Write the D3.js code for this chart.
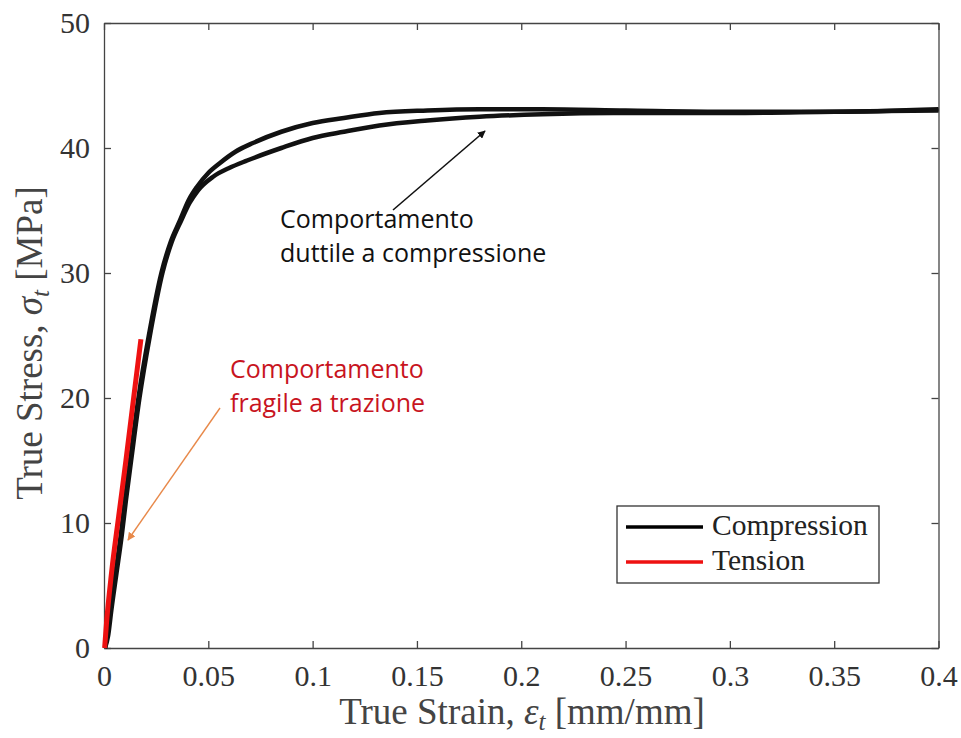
<!DOCTYPE html>
<html>
<head>
<meta charset="utf-8">
<script src="https://cdn.jsdelivr.net/npm/d3@7"></script>
<style>
  body { margin: 0; background: #fff; }
  svg { display: block; }
  .axis text { font-family: "Liberation Serif", "Times New Roman", serif; font-size: 30px; fill: #333; }
  .axis path, .axis line { stroke: #444; stroke-width: 1.3; }
  .lbl { font-family: "Liberation Serif", "Times New Roman", serif; font-size: 37px; fill: #444; }
  .leg { font-family: "Liberation Serif", "Times New Roman", serif; font-size: 29.5px; fill: #222; }
  .note { font-family: "Open Sans", "Noto Sans", sans-serif; font-size: 25px; }
</style>
</head>
<body>
<script>
// compression - two specimens
var compStrainA = [0.0005, 0.0015, 0.003, 0.0055, 0.008, 0.010, 0.0125, 0.0165, 0.0215, 0.0275, 0.0320, 0.0364, 0.0405, 0.0446, 0.050, 0.0556, 0.063, 0.0714, 0.085, 0.100, 0.115, 0.132, 0.155, 0.180, 0.210, 0.250, 0.300, 0.350, 0.400];
var compStressA = [0, 1, 3, 6, 9, 11.8, 15, 20, 25, 30, 32.5, 34.2, 35.8, 36.9, 38.0, 38.8, 39.7, 40.4, 41.3, 42.0, 42.4, 42.8, 43.0, 43.1, 43.1, 43.0, 42.9, 42.9, 43.1];
var compStrainB = [0.0005, 0.002, 0.0035, 0.006, 0.0085, 0.0105, 0.013, 0.017, 0.022, 0.028, 0.0325, 0.037, 0.041, 0.0450, 0.0523, 0.060, 0.0686, 0.085, 0.100, 0.115, 0.132, 0.155, 0.180, 0.210, 0.244, 0.300, 0.350, 0.400];
var compStressB = [0, 1, 3, 6, 9, 11.8, 15, 20, 25, 30, 32.5, 34.2, 35.6, 36.6, 37.7, 38.4, 39.0, 40.0, 40.8, 41.3, 41.8, 42.2, 42.5, 42.7, 42.8, 42.8, 42.9, 43.0];
// tension
var tenStrain = [0.0003, 0.0012, 0.0036, 0.0070, 0.0105, 0.0142, 0.0177];
var tenStress = [0, 2, 6, 10.5, 15, 20, 24.7];

var xTicks = [0, 0.05, 0.1, 0.15, 0.2, 0.25, 0.3, 0.35, 0.4];
var yTicks = [0, 10, 20, 30, 40, 50];
var legendNames = ["Compression", "Tension"];
var legendColors = ["#000", "#ee1111"];

var W = 961, H = 738;
var pLeft = 104, pRight = 938.5, pTop = 23, pBottom = 648;

var svg = d3.select("body").append("svg").attr("width", W).attr("height", H);

var x = d3.scaleLinear().domain([0, 0.4]).range([pLeft, pRight]);
var y = d3.scaleLinear().domain([0, 50]).range([pBottom, pTop]);

function fmt(d) { return d === 0 ? "0" : String(d); }

// axes, ticks pointing inward on all 4 sides
svg.append("g").attr("class", "axis")
    .attr("transform", "translate(0," + pBottom + ")")
    .call(d3.axisBottom(x).tickValues(xTicks).tickFormat(fmt).tickSizeInner(-7).tickSizeOuter(0).tickPadding(17));
svg.append("g").attr("class", "axis")
    .attr("transform", "translate(" + pLeft + ",0)")
    .call(d3.axisLeft(y).tickValues(yTicks).tickSizeInner(-7).tickSizeOuter(0).tickPadding(14));
svg.append("g").attr("class", "axis")
    .attr("transform", "translate(0," + pTop + ")")
    .call(d3.axisTop(x).tickValues(xTicks).tickFormat("").tickSizeInner(-7).tickSizeOuter(0));
svg.append("g").attr("class", "axis")
    .attr("transform", "translate(" + pRight + ",0)")
    .call(d3.axisRight(y).tickValues(yTicks).tickFormat("").tickSizeInner(-7).tickSizeOuter(0));

// axis labels
var xl = svg.append("text").attr("class", "lbl")
    .attr("x", 522).attr("y", 724).attr("text-anchor", "middle");
xl.append("tspan").text("True Strain, ");
xl.append("tspan").attr("font-style", "italic").text("ε");
xl.append("tspan").attr("font-style", "italic").style("font-size", "25px").attr("dy", 6).text("t");
xl.append("tspan").attr("dy", -6).text(" [mm/mm]");

var yl = svg.append("text").attr("class", "lbl")
    .attr("transform", "translate(42,343) rotate(-90)").attr("text-anchor", "middle");
yl.append("tspan").text("True Stress, ");
yl.append("tspan").attr("font-style", "italic").text("σ");
yl.append("tspan").attr("font-style", "italic").style("font-size", "25px").attr("dy", 7).text("t");
yl.append("tspan").attr("dy", -7).text(" [MPa]");

// curves
var line = d3.line().x(function (d) { return x(d[0]); }).y(function (d) { return y(d[1]); })
    .curve(d3.curveMonotoneX);

var plot = svg.append("g");
plot.append("path").datum(d3.zip(compStrainA, compStressA))
    .attr("d", line).attr("fill", "none").attr("stroke", "#111").attr("stroke-width", 4.5);
plot.append("path").datum(d3.zip(compStrainB, compStressB))
    .attr("d", line).attr("fill", "none").attr("stroke", "#111").attr("stroke-width", 4.5);
plot.append("path").datum(d3.zip(tenStrain, tenStress))
    .attr("d", line).attr("fill", "none").attr("stroke", legendColors[1]).attr("stroke-width", 5);

// legend
var lg = svg.append("g");
lg.append("rect").attr("x", 617).attr("y", 506).attr("width", 262).attr("height", 77)
    .attr("fill", "#fff").attr("stroke", "#333").attr("stroke-width", 1.3);
legendNames.forEach(function (n, i) {
    var ly = 527 + i * 35;
    lg.append("line").attr("x1", 626).attr("x2", 703).attr("y1", ly).attr("y2", ly)
        .attr("stroke", legendColors[i]).attr("stroke-width", 3.5);
    lg.append("text").attr("class", "leg").attr("x", 712).attr("y", ly + 8).text(n);
});

// annotations
var defs = svg.append("defs");
function marker(id, col) {
    defs.append("marker").attr("id", id).attr("viewBox", "0 0 10 10")
        .attr("refX", 9).attr("refY", 5).attr("markerWidth", 8).attr("markerHeight", 8)
        .attr("markerUnits", "userSpaceOnUse").attr("orient", "auto")
        .append("path").attr("d", "M0,0 L10,5 L0,10 z").attr("fill", col);
}
marker("ab", "#111");
marker("ao", "#e8894a");

svg.append("line").attr("x1", 393).attr("y1", 210).attr("x2", 485).attr("y2", 131)
    .attr("stroke", "#111").attr("stroke-width", 1.6).attr("marker-end", "url(#ab)");
svg.append("line").attr("x1", 220).attr("y1", 408).attr("x2", 128).attr("y2", 540)
    .attr("stroke", "#e8894a").attr("stroke-width", 1.4).attr("marker-end", "url(#ao)");

var n1 = svg.append("text").attr("class", "note").attr("fill", "#111");
n1.append("tspan").attr("x", 280).attr("y", 228).text("Comportamento");
n1.append("tspan").attr("x", 280).attr("y", 262).text("duttile a compressione");
var n2 = svg.append("text").attr("class", "note").attr("fill", "#c8141e");
n2.append("tspan").attr("x", 230).attr("y", 378).text("Comportamento");
n2.append("tspan").attr("x", 230).attr("y", 412).text("fragile a trazione");
</script>
</body>
</html>
